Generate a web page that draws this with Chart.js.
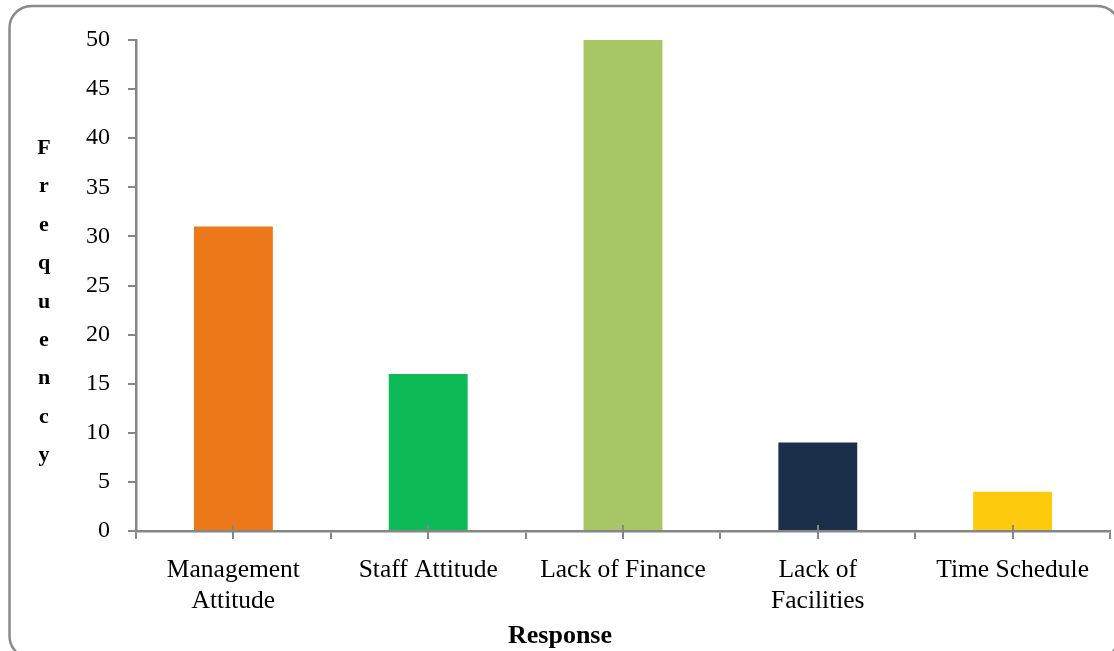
<!DOCTYPE html>
<html>
<head>
<meta charset="utf-8">
<script src="https://cdn.jsdelivr.net/npm/chart.js@4.4.0/dist/chart.umd.min.js"></script>
<style>
  html, body { margin: 0; padding: 0; background: #fff; }
  canvas { display: block; }
</style>
</head>
<body>
<canvas id="freqChart" width="1114" height="651"></canvas>
<script>
// --- data ---
const categories = [['Management', 'Attitude'], 'Staff Attitude', 'Lack of Finance', ['Lack of', 'Facilities'], 'Time Schedule'];
const frequency = [31, 16, 50, 9, 4];
const barColors = ['#ED7819', '#0CBA58', '#A7C766', '#1C2F4A', '#FECA0E'];
const yTitle = 'Frequency';
const xTitle = 'Response';

const AXIS_GREY = '#868686';
const SERIF = '"Liberation Serif", "Times New Roman", serif';

// rounded outer frame, stacked y title, x title and centre tick marks
const decorations = {
  id: 'decorations',
  beforeDraw(chart) {
    const c = chart.ctx;
    c.save();
    c.fillStyle = '#fff';
    c.fillRect(0, 0, chart.width, chart.height);
    c.strokeStyle = '#8a8a8a';
    c.lineWidth = 2.5;
    c.beginPath();
    c.roundRect(9.5, 6, 1110, 652, 22);
    c.stroke();
    c.restore();
  },
  afterDatasetsDraw(chart) {
    const c = chart.ctx;
    const x = chart.scales.x;
    const bottom = chart.chartArea.bottom;
    c.save();
    // ticks at category centres cross the axis
    c.strokeStyle = AXIS_GREY;
    c.lineWidth = 2;
    categories.forEach((_, i) => {
      const px = Math.round(x.getPixelForValue(i));
      c.beginPath();
      c.moveTo(px, bottom - 6);
      c.lineTo(px, bottom + 8);
      c.stroke();
    });
    // vertical letter-stacked axis title
    c.fillStyle = '#000';
    c.font = 'bold 22px ' + SERIF;
    c.textAlign = 'center';
    c.textBaseline = 'alphabetic';
    yTitle.split('').forEach((ch, i) => {
      c.fillText(ch, 44, 154 + i * 38.4);
    });
    c.font = 'bold 26px ' + SERIF;
    c.textBaseline = 'middle';
    c.fillText(xTitle, 560, 636);
    c.restore();
  }
};

new Chart(document.getElementById('freqChart'), {
  type: 'bar',
  data: {
    labels: categories,
    datasets: [{
      label: yTitle,
      data: frequency,
      backgroundColor: barColors,
      borderWidth: 0,
      barPercentage: 0.405,
      categoryPercentage: 1
    }]
  },
  options: {
    responsive: false,
    animation: false,
    devicePixelRatio: 1,
    layout: { padding: { top: 40, right: 4, left: 0, bottom: 0 } },
    plugins: {
      legend: { display: false },
      tooltip: { enabled: false }
    },
    scales: {
      x: {
        grid: {
          display: true,
          offset: true,
          drawOnChartArea: false,
          tickLength: 8,
          color: AXIS_GREY,
          lineWidth: 2
        },
        border: { display: true, color: AXIS_GREY, width: 2.5 },
        ticks: {
          color: '#000',
          font: { family: SERIF, size: 25.5, lineHeight: 1.2 },
          padding: 16,
          maxRotation: 0,
          autoSkip: false
        },
        afterFit(scale) { scale.height = 120; }
      },
      y: {
        min: 0,
        max: 50,
        grid: {
          display: true,
          drawOnChartArea: false,
          tickLength: 8,
          color: AXIS_GREY,
          lineWidth: 2
        },
        border: { display: true, color: AXIS_GREY, width: 2.5 },
        ticks: {
          stepSize: 5,
          color: '#000',
          font: { family: SERIF, size: 24 },
          padding: 18
        },
        afterFit(scale) { scale.width = 136; }
      }
    }
  },
  plugins: [decorations]
});
</script>
</body>
</html>
